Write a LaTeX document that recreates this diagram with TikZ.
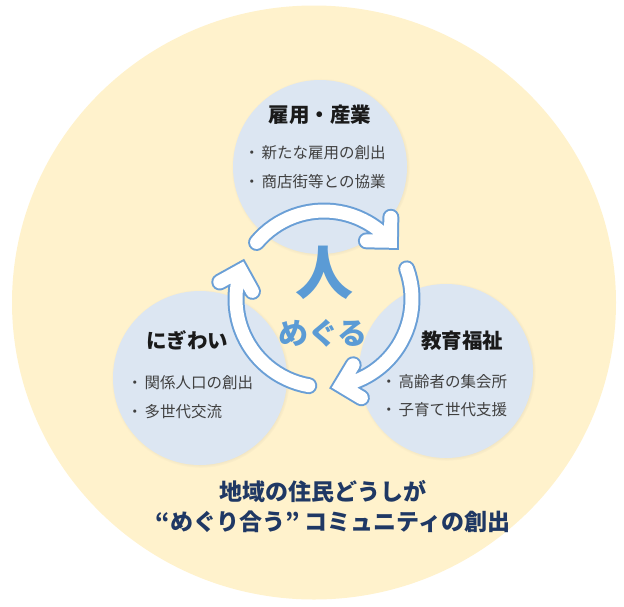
\documentclass[tikz,border=0pt]{standalone}
\usepackage{fontspec}
\newfontfamily\jp{Noto Sans CJK JP}
\usetikzlibrary{shadows}
\definecolor{bgyellow}{HTML}{FFF2CC}
\definecolor{cblue}{HTML}{DCE6F2}
\definecolor{ablue}{HTML}{6A9FD6}
\definecolor{tblue}{HTML}{5B9BD5}
\definecolor{navy}{HTML}{1F3864}
\definecolor{tgray}{HTML}{404040}
\definecolor{ttitle}{HTML}{1A1A1A}
\begin{document}
\begin{tikzpicture}[x=1pt,y=1pt,
  topic/.style={circle,fill=cblue,minimum size=174pt,inner sep=0,
    circular drop shadow={shadow xshift=0.6pt,shadow yshift=-0.6pt,opacity=0.35,shadow scale=1.025}},
  ctitle/.style={font=\jp\bfseries\fontsize{20.5}{22}\selectfont,text=ttitle,inner sep=0},
  bullet/.style={font=\jp\fontsize{15.5}{17}\selectfont,text=tgray,anchor=west,inner sep=0},
  bottomtxt/.style={font=\jp\bfseries\fontsize{23}{26}\selectfont,text=navy,inner sep=0},
  arrowout/.style={draw=ablue,line width=17pt,line cap=round,line join=miter},
  arrowin/.style={draw=white,line width=13pt,line cap=round,line join=miter}
]
\useasboundingbox (0,0) rectangle (624,-606);
\fill[bgyellow] (314,-302.5) ellipse[x radius=302,y radius=297];
\coordinate (c) at (324,-299);
% topic circles
\node[topic] (top) at (320,-167) {};
\node[topic] (left) at (200,-378) {};
\node[topic] (right) at (446,-371) {};
% arrows: blue under-stroke, then white
\foreach \r in {0,-120,-240}{
  \path[arrowout,rotate around={\r:(c)}] (c) ++(140:88) arc[start angle=140,end angle=41,radius=88]
    coordinate (tip) ++(89:24) -- (tip) -- ++(179:24);
}
\foreach \r in {0,-120,-240}{
  \path[arrowin,rotate around={\r:(c)}] (c) ++(140:88) arc[start angle=140,end angle=41,radius=88]
    coordinate (tip) ++(89:24) -- (tip) -- ++(179:24);
}
% texts in circles
\node[ctitle] (ttop) at (320,-115) {雇用・産業};
\node[bullet] (tb1) at (244,-153) {・\hspace{2pt}新たな雇用の創出};
\node[bullet] (tb2) at (244,-182) {・\hspace{2pt}商店街等との協業};
\node[ctitle] (tleft) at (187,-340) {にぎわい};
\node[bullet] (lb1) at (127,-383) {・\hspace{2pt}関係人口の創出};
\node[bullet] (lb2) at (127,-412) {・\hspace{2pt}多世代交流};
\node[ctitle] (tright) at (462,-341) {教育福祉};
\node[bullet] (rb1) at (381,-382) {・\hspace{2pt}高齢者の集会所};
\node[bullet] (rb2) at (381,-410) {・\hspace{2pt}子育て世代支援};
% center
\node[font=\jp\bfseries\fontsize{58}{60}\selectfont,text=tblue,inner sep=0] (hito) at (324,-273) {人};
\node[font=\jp\bfseries\fontsize{30}{32}\selectfont,text=tblue,inner sep=0] (meguru) at (323,-333) {めぐる};
% bottom
\node[bottomtxt] (b1) at (323,-492) {地域の住民どうしが};
\node[bottomtxt] (b2) at (333,-522) {“めぐり合う” コミュニティの創出};
\end{tikzpicture}
\end{document}
